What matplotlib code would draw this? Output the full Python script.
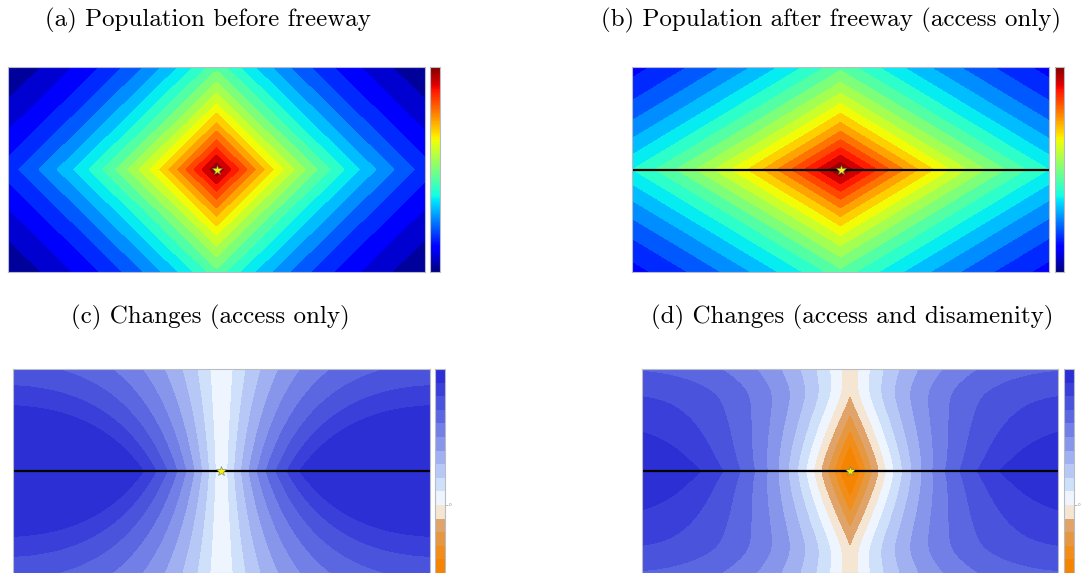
import numpy as np
import matplotlib
matplotlib.use("Agg")
import matplotlib.pyplot as plt
from matplotlib.colors import ListedColormap, BoundaryNorm, Normalize
import matplotlib.colorbar as mcolorbar

# ---- model parameters (read/fitted from the picture) ----
decay_k = 1.2          # population decay with distance to centre
freeway_speed = 1.63   # relative speed along the freeway
dis_core = 0.06        # disamenity: core strength at the freeway
dis_width = 0.382      # disamenity: core half-width
dis_shape = 1.3        # disamenity: core shape exponent
dis_soft = 0.08        # disamenity: softness of the core edge
dis_tail = 0.018       # disamenity: background level
pop_step = 0.04        # contour step for population maps
chg_step = 0.01345     # contour step for change maps

titles = ["(a) Population before freeway",
          "(b) Population after freeway (access only)",
          "(c) Changes (access only)",
          "(d) Changes (access and disamenity)"]

chg_colors = ["#f58400", "#f28d1a", "#e69841", "#e0a46b", "#f5e6d3",
              "#eef5fe", "#cfe0fb", "#b8c8f6", "#a0b0f0", "#8796ea",
              "#717fe6", "#5b67e0", "#4a53dc", "#3a3fd9", "#2b2fd4"]
n_neg_bands = 5

# ---- grid ----
x = np.linspace(-1, 1, 1001)
y = np.linspace(-0.5, 0.5, 501)
X, Y = np.meshgrid(x, y)

pop_before = np.exp(-decay_k * (np.abs(X) + np.abs(Y)))
pop_after = np.exp(-decay_k * (np.abs(X) / freeway_speed + np.abs(Y)))
chg_access = pop_after - pop_before
core = 1 - (np.abs(Y) / dis_width) ** dis_shape
core = dis_soft * np.log1p(np.exp(core / dis_soft))
dis = dis_core * core + dis_tail
chg_dis = pop_after * (1 - dis) - pop_before

pop_levels = 1 - pop_step * np.arange(22)[::-1]
chg_levels = chg_step * np.arange(-n_neg_bands, len(chg_colors) - n_neg_bands + 1)

W, H = 1091, 573
fig = plt.figure(figsize=(W / 100, H / 100), dpi=100)

def rect(l, r, t, b):
    return [l / W, 1 - b / H, (r - l) / W, (b - t) / H]

border = "#b9bcc4"

def style(ax):
    ax.set_xticks([]); ax.set_yticks([])
    for s in ax.spines.values():
        s.set_color(border); s.set_linewidth(0.8)

panels = [
    dict(ax=(8, 425, 67, 272), cb=(430, 440), data=pop_before, kind="pop", road=False, tx=208, ty=26),
    dict(ax=(632, 1049, 67, 272), cb=(1055, 1064), data=pop_after, kind="pop", road=True, tx=831, ty=26),
    dict(ax=(13, 430, 369, 573), cb=(435, 445), data=chg_access, kind="chg", road=True, tx=210, ty=323),
    dict(ax=(642, 1058, 369, 573), cb=(1064, 1074), data=chg_dis, kind="chg", road=True, tx=852, ty=323),
]

jet = plt.get_cmap("jet")
chg_cmap = ListedColormap(chg_colors)
chg_norm = BoundaryNorm(chg_levels, chg_cmap.N)

for i, p in enumerate(panels):
    l, r, t, b = p["ax"]
    ax = fig.add_axes(rect(l, r, t, b))
    if p["kind"] == "pop":
        ax.contourf(X, Y, p["data"], levels=pop_levels, cmap=jet,
                    vmin=pop_levels[0], vmax=pop_levels[-1])
    else:
        d = np.clip(p["data"], chg_levels[0] + 1e-9, chg_levels[-1] - 1e-9)
        ax.contourf(X, Y, d, levels=chg_levels, cmap=chg_cmap, norm=chg_norm)
    if p["road"]:
        ax.plot([-1, 1], [0, 0], color="black", lw=1.6)
    ax.plot([0], [0], marker="*", ms=7.5, mfc="#f2f20a", mec="#6b7a6b", mew=0.4)
    ax.set_xlim(-1, 1); ax.set_ylim(-0.5, 0.5)
    style(ax)

    cl, cr = p["cb"]
    cax = fig.add_axes(rect(cl, cr, t, b))
    if p["kind"] == "pop":
        cb = mcolorbar.ColorbarBase(cax, cmap=jet, norm=Normalize(0, 1))
        cb.set_ticks([])
    else:
        cb = mcolorbar.ColorbarBase(cax, cmap=chg_cmap, norm=chg_norm,
                                    boundaries=chg_levels, spacing="uniform")
        cb.set_ticks([0])
        cb.set_ticklabels(["0"])
        cb.minorticks_off()
        cax.tick_params(axis="y", length=2, width=0.4, colors="#888888",
                        labelsize=3, pad=0.5)
    cb.outline.set_edgecolor(border)
    cb.outline.set_linewidth(0.8)
    cax.set_xticks([])

    fig.text(p["tx"] / W, 1 - p["ty"] / H, titles[i], family="cmr10",
             fontsize=18, ha="center", va="baseline")

fig.savefig("out.png", dpi=100)
